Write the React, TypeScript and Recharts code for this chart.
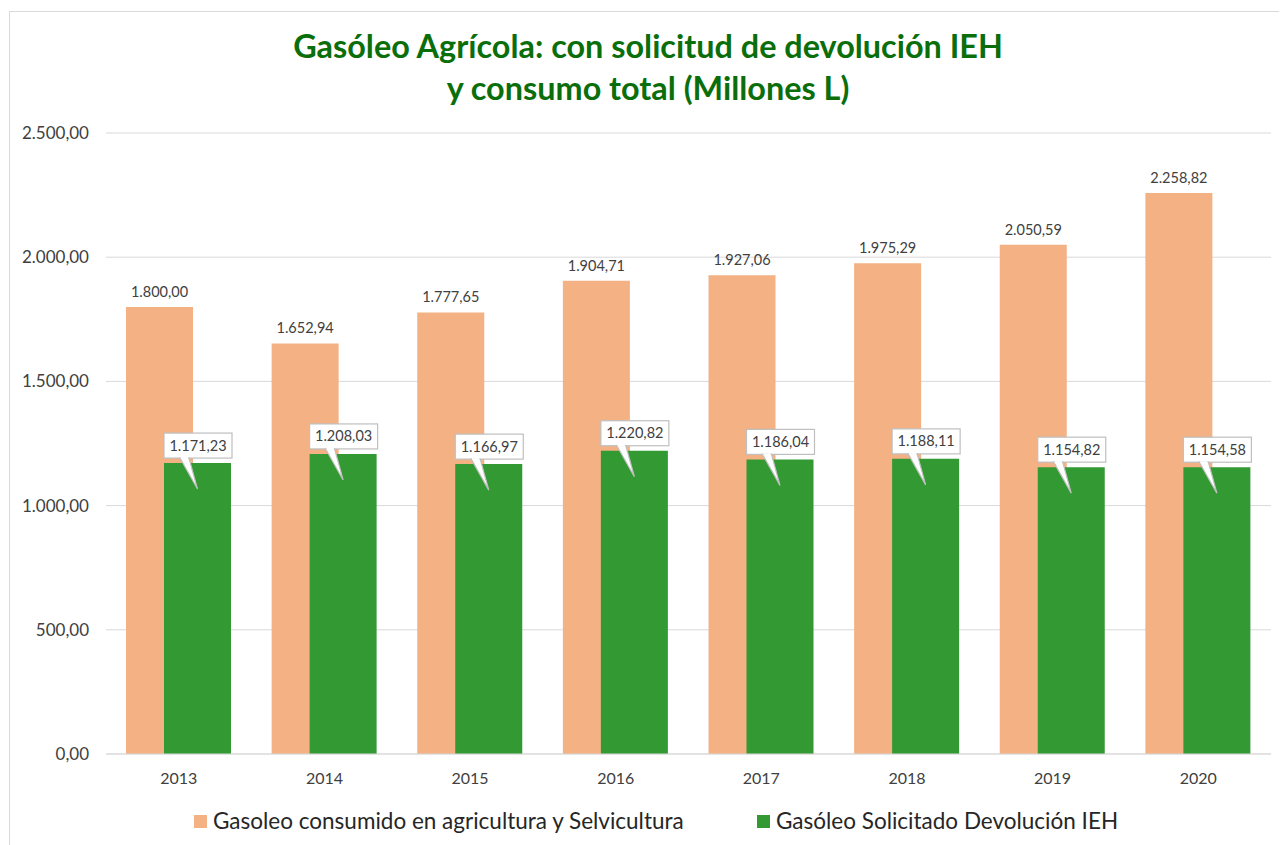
import React from "react";
import { BarChart, Bar, XAxis, YAxis, CartesianGrid, LabelList } from "recharts";

const years = ["2013", "2014", "2015", "2016", "2017", "2018", "2019", "2020"];
const consumoTotal = [1800.0, 1652.94, 1777.65, 1904.71, 1927.06, 1975.29, 2050.59, 2258.82];
const solicitado = [1171.23, 1208.03, 1166.97, 1220.82, 1186.04, 1188.11, 1154.82, 1154.58];
const yTicks = [0, 500, 1000, 1500, 2000, 2500];

const seriesNames = [
  "Gasoleo consumido en agricultura y Selvicultura",
  "Gasóleo Solicitado Devolución IEH",
];
const titleLines = [
  "Gasóleo Agrícola: con solicitud de devolución IEH",
  "y consumo total (Millones L)",
];

const ORANGE = "#F4B183";
const GREEN = "#339933";
const TEXT = "#404040";
const FONT = "Lato, 'Noto Sans', sans-serif";

const data = years.map((y, i) => ({ year: y, total: consumoTotal[i], sol: solicitado[i] }));

function fmt(v: number): string {
  const fixed = Math.abs(v).toFixed(2);
  const [intPart, dec] = fixed.split(".");
  const withDots = intPart.replace(/\B(?=(\d{3})+(?!\d))/g, ".");
  return (v < 0 ? "-" : "") + withDots + "," + dec;
}

const Callout = (props: any) => {
  const { x, y, width, value } = props;
  const bx = Number(x);
  const by = Number(y);
  const w = Number(width);
  const boxW = w + 1;
  const boxH = 25;
  const left = bx;
  const top = by - 30;
  const bottom = top + boxH;
  const tipX = bx + w / 2;
  const tipY = by + 26;
  return (
    <g>
      <rect x={left} y={top} width={boxW} height={boxH} fill="#ffffff" stroke="#bfbfbf" strokeWidth={1.2} />
      <polygon
        points={`${left + 16},${bottom} ${tipX},${tipY} ${left + 25},${bottom}`}
        fill="#ffffff"
        stroke="#bfbfbf"
        strokeWidth={1.2}
      />
      <line x1={left + 16.8} y1={bottom} x2={left + 24.2} y2={bottom} stroke="#ffffff" strokeWidth={2} />
      <text
        x={left + boxW / 2}
        y={top + 17.5}
        textAnchor="middle"
        fontSize={14.5}
        fill={TEXT}
        fontFamily={FONT}
      >
        {fmt(Number(value))}
      </text>
    </g>
  );
};

export default function App() {
  return (
    <div style={{ position: "relative", width: 1279, height: 837, fontFamily: FONT }}>
      <div
        style={{
          position: "absolute",
          left: 1,
          top: 3,
          width: 1300,
          height: 850,
          border: "1px solid #d9d9d9",
          boxSizing: "border-box",
        }}
      />
      <BarChart
        width={1279}
        height={837}
        data={data}
        margin={{ top: 125, right: 16, bottom: 61, left: 8 }}
        barSize={67}
        barGap={-29}
      >
        <CartesianGrid vertical={false} stroke="#d9d9d9" />
        <XAxis
          dataKey="year"
          axisLine={{ stroke: "#d9d9d9" }}
          tickLine={false}
          tick={{ fontSize: 16, fill: TEXT, fontFamily: FONT }}
          tickMargin={13}
          height={30}
        />
        <YAxis
          width={90}
          domain={[0, 2500]}
          ticks={yTicks}
          axisLine={false}
          tickLine={false}
          tickMargin={11}
          tickFormatter={(v: number) => fmt(v)}
          tick={{ fontSize: 17, fill: TEXT, fontFamily: FONT }}
        />
        <Bar dataKey="total" fill={ORANGE} isAnimationActive={false}>
          <LabelList
            dataKey="total"
            position="top"
            offset={10}
            formatter={(v: any) => fmt(Number(v))}
            style={{ fontSize: 14.5, fill: TEXT, fontFamily: FONT }}
          />
        </Bar>
        <Bar dataKey="sol" fill={GREEN} isAnimationActive={false}>
          <LabelList dataKey="sol" content={<Callout />} />
        </Bar>
      </BarChart>
      <svg
        width={1279}
        height={837}
        style={{ position: "absolute", left: 0, top: 0, pointerEvents: "none" }}
      >
        <text x={640} y={50} textAnchor="middle" fontSize={32.4} fontWeight={700} fill="#0a6e0a" fontFamily={FONT}>
          {titleLines[0]}
        </text>
        <text x={640} y={92} textAnchor="middle" fontSize={32.4} fontWeight={700} fill="#0a6e0a" fontFamily={FONT}>
          {titleLines[1]}
        </text>
        <rect x={186} y={807} width={13} height={13} fill={ORANGE} />
        <text x={205} y={821} fontSize={22.5} fill="#262626" fontFamily={FONT}>
          {seriesNames[0]}
        </text>
        <rect x={749} y={807} width={13} height={13} fill={GREEN} />
        <text x={768} y={821} fontSize={22.5} fill="#262626" fontFamily={FONT}>
          {seriesNames[1]}
        </text>
      </svg>
    </div>
  );
}
